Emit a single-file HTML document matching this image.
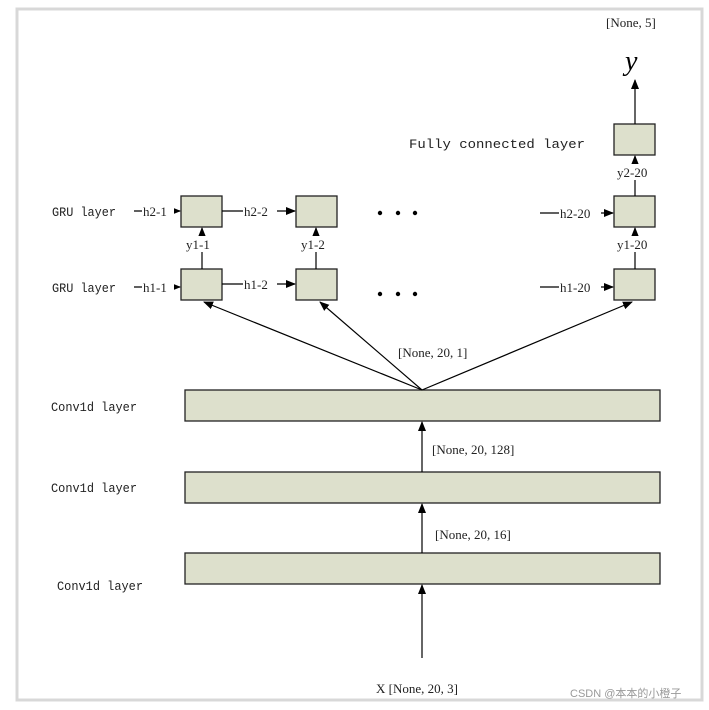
<!DOCTYPE html>
<html><head><meta charset="utf-8"><style>
html,body{margin:0;padding:0;background:#fff}
svg text{font-family:"Liberation Serif","Noto Serif CJK SC",serif;font-size:13px;fill:#222}
.m{font-family:"Liberation Mono","Noto Sans CJK SC",monospace;font-size:13px}
</style></head><body>
<svg width="709" height="705" viewBox="0 0 709 705" xmlns="http://www.w3.org/2000/svg">
<defs><marker id="a" markerWidth="10" markerHeight="10" refX="9" refY="4" orient="auto" markerUnits="userSpaceOnUse"><path d="M0,0 L10,4 L0,8 z" fill="#000"/></marker></defs>
<rect x="17" y="9" width="685" height="691" fill="#fff" stroke="#d8d8d8" stroke-width="3"/>
<g fill="#dde0cc" stroke="#222" stroke-width="1.3">
<rect x="181" y="196" width="41" height="31"/><rect x="296" y="196" width="41" height="31"/><rect x="614" y="196" width="41" height="31"/>
<rect x="181" y="269" width="41" height="31"/><rect x="296" y="269" width="41" height="31"/><rect x="614" y="269" width="41" height="31"/>
<rect x="614" y="124" width="41" height="31"/>
<rect x="185" y="390" width="475" height="31"/><rect x="185" y="472" width="475" height="31"/><rect x="185" y="553" width="475" height="31"/>
</g>
<g stroke="#000" stroke-width="1.2" fill="none" marker-end="url(#a)">
<line x1="422" y1="658" x2="422" y2="585"/>
<line x1="422" y1="553" x2="422" y2="504"/>
<line x1="422" y1="472" x2="422" y2="422"/>
<line x1="422" y1="390" x2="204" y2="302"/>
<line x1="422" y1="390" x2="320" y2="302"/>
<line x1="422" y1="390" x2="632" y2="302"/>
<line x1="635" y1="124" x2="635" y2="80"/>
<line x1="202" y1="269" x2="202" y2="228"/>
<line x1="316" y1="269" x2="316" y2="228"/>
<line x1="635" y1="269" x2="635" y2="228"/>
<line x1="635" y1="196" x2="635" y2="156"/>
<line x1="222" y1="211" x2="295" y2="211"/><line x1="222" y1="284" x2="295" y2="284"/>
<line x1="134" y1="211" x2="180" y2="211"/><line x1="134" y1="287" x2="180" y2="287"/>
<line x1="540" y1="213" x2="613" y2="213"/><line x1="540" y1="287" x2="613" y2="287"/>
</g>
<g fill="#fff">
<rect x="185" y="236" width="34" height="16"/><rect x="300" y="236" width="34" height="16"/><rect x="616" y="236" width="38" height="16"/><rect x="616" y="164" width="38" height="16"/>
<rect x="142" y="203" width="32" height="15"/><rect x="142" y="279" width="32" height="15"/>
<rect x="243" y="203" width="34" height="15"/><rect x="243" y="276" width="34" height="15"/>
<rect x="559" y="205" width="42" height="15"/><rect x="559" y="279" width="42" height="15"/>
</g>
<text x="186" y="249">y1-1</text><text x="301" y="249">y1-2</text><text x="617" y="249">y1-20</text><text x="617" y="177">y2-20</text>
<text x="143" y="216">h2-1</text><text x="244" y="216">h2-2</text><text x="560" y="218">h2-20</text>
<text x="143" y="292">h1-1</text><text x="244" y="289">h1-2</text><text x="560" y="292">h1-20</text>
<g fill="#000"><circle cx="380" cy="213" r="2.2"/><circle cx="398" cy="213" r="2.2"/><circle cx="415" cy="213" r="2.2"/>
<circle cx="380" cy="294" r="2.2"/><circle cx="398" cy="294" r="2.2"/><circle cx="415" cy="294" r="2.2"/></g>
<text class="m" x="52" y="216" textLength="64" lengthAdjust="spacingAndGlyphs">GRU layer</text><text class="m" x="52" y="292" textLength="64" lengthAdjust="spacingAndGlyphs">GRU layer</text>
<text class="m" x="409" y="148" textLength="176" lengthAdjust="spacingAndGlyphs">Fully connected layer</text>
<text class="m" x="51" y="411" textLength="86" lengthAdjust="spacingAndGlyphs">Conv1d layer</text><text class="m" x="51" y="492" textLength="86" lengthAdjust="spacingAndGlyphs">Conv1d layer</text><text class="m" x="57" y="590" textLength="86" lengthAdjust="spacingAndGlyphs">Conv1d layer</text>
<text x="606" y="27">[None, 5]</text>
<text x="625" y="70" style="font-size:28px;font-style:italic;fill:#000">y</text>
<text x="398" y="357">[None, 20, 1]</text>
<text x="432" y="454">[None, 20, 128]</text>
<text x="435" y="539">[None, 20, 16]</text>
<text x="376" y="693">X [None, 20, 3]</text>
<text x="570" y="697" style="font-family:'Liberation Sans','Noto Sans CJK SC',sans-serif;font-size:11px;fill:#999">CSDN @本本的小橙子</text>
</svg>
</body></html>
